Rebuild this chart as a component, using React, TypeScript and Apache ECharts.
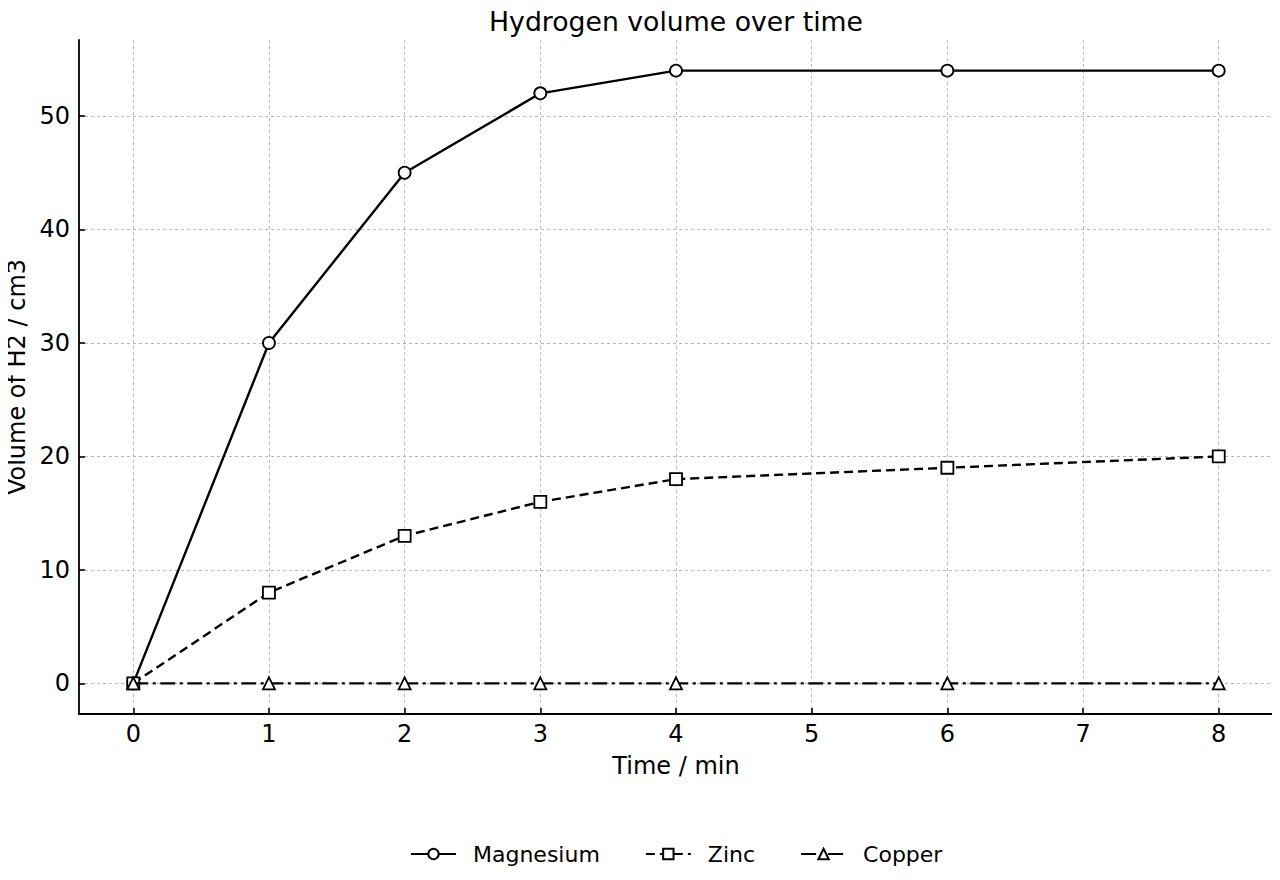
import React, { useEffect, useRef } from "react";
import * as echarts from "echarts";

// Time in minutes at which each reading was taken
const timeMin = [0, 1, 2, 3, 4, 6, 8];
// Hydrogen volume (cm3) collected for each metal
const magnesium = [0, 30, 45, 52, 54, 54, 54];
const zinc = [0, 8, 13, 16, 18, 19, 20];
const copper = [0, 0, 0, 0, 0, 0, 0];

const xTicks = [0, 1, 2, 3, 4, 5, 6, 7, 8];
const yTicks = [0, 10, 20, 30, 40, 50];

const FONT = "DejaVu Sans";

const pairs = (ys: number[]) => timeMin.map((t, i) => [t, ys[i]]);

export default function App() {
  const ref = useRef<HTMLDivElement>(null);

  useEffect(() => {
    if (!ref.current) return;
    const chart = echarts.init(ref.current, undefined, { renderer: "svg" });

    const markerStyle = {
      color: "#ffffff",
      borderColor: "#000000",
      borderWidth: 1.8,
    };

    const axisCommon = {
      axisLine: { show: true, onZero: false, lineStyle: { color: "#000", width: 1.8 } },
      axisTick: { show: true, inside: true, length: 6, lineStyle: { color: "#000", width: 1.6 } },
      splitLine: {
        show: true,
        lineStyle: { color: "#b0b0b0", width: 0.9, type: [3, 3] },
      },
      nameTextStyle: { fontFamily: FONT, fontSize: 24, color: "#000" },
    };

    chart.setOption({
      animation: false,
      backgroundColor: "#ffffff",
      textStyle: { fontFamily: FONT },
      title: {
        text: "Hydrogen volume over time",
        left: 671,
        textAlign: "center",
        top: 3,
        textStyle: { fontFamily: FONT, fontSize: 26.7, fontWeight: "normal", color: "#000" },
      },
      grid: {
        left: 79,
        right: 7,
        top: 40,
        bottom: 166,
        containLabel: false,
        outerBoundsMode: "none",
      },
      legend: {
        bottom: 15,
        left: 410,
        padding: 0,
        itemWidth: 45,
        itemHeight: 13,
        itemGap: 45,
        textStyle: { fontFamily: FONT, fontSize: 22, color: "#000", padding: [0, 0, 0, 12] },
        data: ["Magnesium", "Zinc", "Copper"],
      },
      xAxis: {
        type: "value",
        min: -0.4,
        max: 8.4,
        name: "Time / min",
        nameLocation: "middle",
        nameGap: 40,
        ...axisCommon,
        axisTick: { ...axisCommon.axisTick, customValues: xTicks },
        axisLabel: {
          customValues: xTicks,
          fontFamily: FONT,
          fontSize: 24,
          color: "#000",
          margin: 8,
        },
      },
      yAxis: {
        type: "value",
        min: -2.7,
        max: 56.7,
        name: "Volume of H2 / cm3",
        nameLocation: "middle",
        nameGap: 48,
        ...axisCommon,
        axisTick: { ...axisCommon.axisTick, customValues: yTicks },
        axisLabel: {
          customValues: yTicks,
          fontFamily: FONT,
          fontSize: 24,
          color: "#000",
          margin: 9,
        },
      },
      series: [
        {
          name: "Magnesium",
          type: "line",
          data: pairs(magnesium),
          symbol: "circle",
          symbolSize: 12,
          showAllSymbol: true,
          lineStyle: { color: "#000", width: 2.4 },
          itemStyle: markerStyle,
          z: 3,
        },
        {
          name: "Zinc",
          type: "line",
          data: pairs(zinc),
          symbol: "rect",
          symbolSize: 12,
          showAllSymbol: true,
          lineStyle: { color: "#000", width: 2.4, type: [9, 5] },
          itemStyle: markerStyle,
          z: 4,
        },
        {
          name: "Copper",
          type: "line",
          data: pairs(copper),
          symbol: "triangle",
          symbolSize: 12,
          showAllSymbol: true,
          lineStyle: { color: "#000", width: 2.4, type: [15, 4.5, 3, 4.5] },
          itemStyle: markerStyle,
          z: 5,
        },
      ],
    });

    return () => chart.dispose();
  }, []);

  return <div ref={ref} style={{ width: 1280, height: 880, margin: -8 }} />;
}
